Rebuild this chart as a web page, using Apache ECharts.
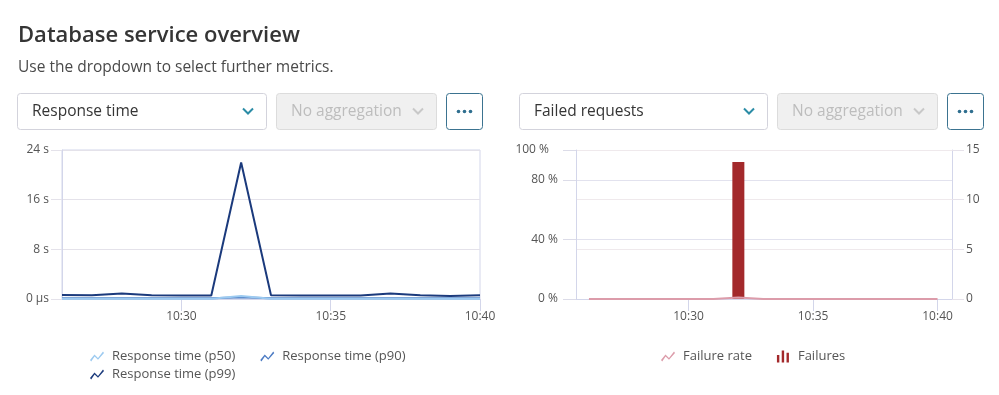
<!DOCTYPE html>
<html><head><meta charset="utf-8">
<script src="https://cdn.jsdelivr.net/npm/echarts@6/dist/echarts.min.js"></script>
<style>html,body{margin:0;padding:0;background:#fff}#c{width:999px;height:395px}</style>
</head><body><div id="c"></div>
<script>
// ---- data ----
const times = ['10:26','10:27','10:28','10:29','10:30','10:31','10:32','10:33','10:34','10:35','10:36','10:37','10:38','10:39','10:40'];
const p50 = [0.05,0.05,0.06,0.05,0.05,0.05,0.5,0.05,0.05,0.05,0.05,0.06,0.05,0.05,0.05];
const p90 = [0.12,0.12,0.14,0.12,0.12,0.12,0.3,0.12,0.12,0.12,0.12,0.14,0.12,0.12,0.12];
const p99 = [0.65,0.6,0.9,0.6,0.55,0.55,22,0.6,0.55,0.55,0.55,0.9,0.6,0.5,0.6];
const failureRate = [0,0,0,0,0,0,1,0,0,0,0,0,0,0,0];
const failures = [0,0,0,0,0,0,13.8,0,0,0,0,0,0,0,0];
const tickLabels = ['10:30','10:35','10:40'];
const leftYTicks = [0, 8, 16, 24];

const toMin = t => { const [h, m] = t.split(':').map(Number); return h * 60 + m; };
const pair = arr => times.map((t, i) => [toMin(t), arr[i]]);
const tickVals = tickLabels.map(toMin);
const fmtTime = v => Math.floor(v / 60) + ':' + String(Math.round(v % 60)).padStart(2, '0');

const FONT = '"Open Sans", "Noto Sans", sans-serif';
const GRID_C = '#e4e2ea';
const AXIS_C = '#d3d6ea';
const LBL = { color: '#555', fontSize: 12, fontFamily: FONT };
const LEG = { color: '#555', fontSize: 13, fontFamily: FONT, padding: [0, 0, 0, 3] };

const lineIcon = 'path://M0,9 L4.5,3.5 L8,7 L13,0.5 L14,2 L8,8.8 L4.6,5.5 L1.2,10.5 Z';
const barIcon = 'path://M0,5 h2.6 v8 h-2.6 z M5.2,0 h2.6 v13 h-2.6 z M10.4,2.5 h2.6 v10.5 h-2.6 z';

function dropdown(x, w, label, disabled) {
  const ch = x + w - 18;
  return [
    { type: 'rect', shape: { x: x + 0.5, y: 93.5, width: w, height: 36, r: 3 },
      style: { fill: disabled ? '#f0f0f0' : '#fff', stroke: disabled ? '#dcdcdc' : '#d3d3dc', lineWidth: 1 } },
    { type: 'text', style: { x: x + 15, y: 111.5, text: label, fill: disabled ? '#bdbdbd' : '#353535',
      font: '15.5px ' + FONT, textVerticalAlign: 'middle' } },
    { type: 'polyline', shape: { points: [[ch - 5, 108.5], [ch, 113.5], [ch + 5, 108.5]] },
      style: { stroke: disabled ? '#c8c8c8' : '#2b8ca6', lineWidth: 2, fill: null } }
  ];
}
function dotsButton(x) {
  return [
    { type: 'rect', shape: { x: x + 0.5, y: 93.5, width: 36, height: 36, r: 3 },
      style: { fill: '#fff', stroke: '#3b7390', lineWidth: 1 } },
    ...[-6, 0, 6].map(d => ({ type: 'circle', shape: { cx: x + 18.5 + d, cy: 111.5, r: 1.8 }, style: { fill: '#2f6f8f' } }))
  ];
}

const chart = echarts.init(document.getElementById('c'), null, { renderer: 'canvas' });
chart.setOption({
  backgroundColor: '#fff',
  animation: false,
  title: {
    text: 'Database service overview',
    subtext: 'Use the dropdown to select further metrics.',
    left: 13, top: 20, itemGap: 13,
    textStyle: { fontSize: 22, fontWeight: 600, color: '#353535', fontFamily: FONT },
    subtextStyle: { fontSize: 15.5, color: '#4a4a4a', fontFamily: FONT }
  },
  graphic: [
    ...dropdown(17, 249, 'Response time', false),
    ...dropdown(276, 160, 'No aggregation', true),
    ...dotsButton(446),
    ...dropdown(519, 248, 'Failed requests', false),
    ...dropdown(777, 160, 'No aggregation', true),
    ...dotsButton(947)
  ],
  legend: [
    { left: 85, top: 345, itemWidth: 14, itemHeight: 11, itemGap: 25, icon: lineIcon,
      textStyle: LEG, data: ['Response time (p50)', 'Response time (p90)'] },
    { left: 85, top: 363, itemWidth: 14, itemHeight: 11, icon: lineIcon,
      textStyle: LEG, data: ['Response time (p99)'] },
    { left: 656, top: 345, itemWidth: 14, itemHeight: 12, itemGap: 25,
      textStyle: LEG,
      data: [{ name: 'Failure rate', icon: lineIcon }, { name: 'Failures', icon: barIcon }] }
  ],
  grid: [
    { left: 62, right: 519, top: 150, bottom: 96, show: true, borderColor: AXIS_C, borderWidth: 1, backgroundColor: 'transparent' },
    { left: 576, right: 47, top: 150, bottom: 96 }
  ],
  xAxis: [
    { type: 'value', gridIndex: 0, min: toMin('10:26'), max: toMin('10:40'),
      axisLine: { show: true, lineStyle: { color: AXIS_C } },
      axisTick: { show: true, length: 12, customValues: tickVals, lineStyle: { color: AXIS_C } },
      axisLabel: { ...LBL, margin: 12, customValues: tickVals, formatter: fmtTime },
      splitLine: { show: false } },
    { type: 'value', gridIndex: 1, min: 625.48, max: 640.58,
      axisLine: { show: true, lineStyle: { color: AXIS_C } },
      axisTick: { show: true, length: 12, customValues: tickVals, lineStyle: { color: AXIS_C } },
      axisLabel: { ...LBL, margin: 12, customValues: tickVals, formatter: fmtTime },
      splitLine: { show: false } }
  ],
  yAxis: [
    { type: 'value', gridIndex: 0, min: 0, max: 24, interval: 8,
      axisLine: { show: true, lineStyle: { color: AXIS_C } },
      axisTick: { show: true, length: 11, lineStyle: { color: GRID_C } },
      axisLabel: { ...LBL, margin: 13, customValues: leftYTicks, formatter: v => v === 0 ? '0 µs' : v + ' s' },
      splitLine: { show: true, lineStyle: { color: GRID_C } } },
    { type: 'value', gridIndex: 1, position: 'left', min: 0, max: 100, interval: 40,
      axisLine: { show: true, lineStyle: { color: AXIS_C } },
      axisTick: { show: true, length: 13, lineStyle: { color: '#dcdce8' } },
      axisLabel: { ...LBL, margin: 18,
        formatter: v => v === 100 ? '{t|100 %}' : v + ' %',
        rich: { t: { color: '#555', fontSize: 12, fontFamily: FONT, padding: [0, 9, 0, 0] } } },
      splitLine: { show: true, lineStyle: { color: '#e2e2ee' } } },
    { type: 'value', gridIndex: 1, position: 'right', min: 0, max: 15, interval: 5,
      axisLine: { show: true, lineStyle: { color: AXIS_C } },
      axisTick: { show: true, length: 12, lineStyle: { color: '#e6e2ea' } },
      axisLabel: { ...LBL, margin: 14 },
      splitLine: { show: true, lineStyle: { color: '#efe9ec' } } }
  ],
  series: [
    { name: 'Response time (p50)', type: 'line', xAxisIndex: 0, yAxisIndex: 0, data: pair(p50),
      showSymbol: false, symbol: 'none', z: 4, color: '#9ccaf0', lineStyle: { width: 2 } },
    { name: 'Response time (p90)', type: 'line', xAxisIndex: 0, yAxisIndex: 0, data: pair(p90),
      showSymbol: false, symbol: 'none', z: 3, color: '#4d7cc4', lineStyle: { width: 2 } },
    { name: 'Response time (p99)', type: 'line', xAxisIndex: 0, yAxisIndex: 0, data: pair(p99),
      showSymbol: false, symbol: 'none', z: 5, color: '#1b3a7c', lineStyle: { width: 2 } },
    { name: 'Failures', type: 'bar', xAxisIndex: 1, yAxisIndex: 2, data: pair(failures),
      barWidth: 12, z: 2, color: '#a3292b', itemStyle: { borderWidth: 0 } },
    { name: 'Failure rate', type: 'line', xAxisIndex: 1, yAxisIndex: 1, data: pair(failureRate),
      showSymbol: false, symbol: 'none', z: 3, color: '#dc9caa', lineStyle: { width: 2 } }
  ]
});
</script>
</body></html>
